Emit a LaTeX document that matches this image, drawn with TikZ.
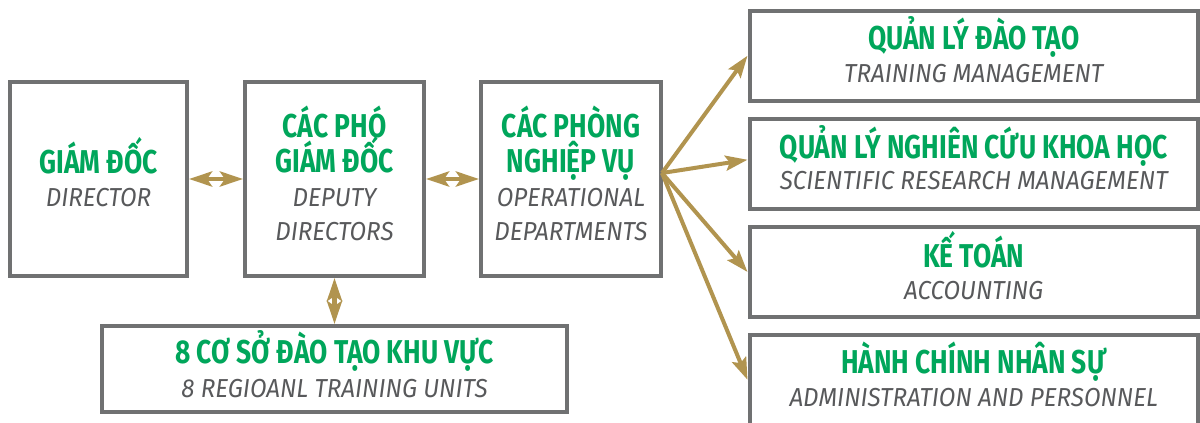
\documentclass[tikz,border=0pt]{standalone}
\usepackage{fontspec}
\usetikzlibrary{arrows.meta,calc}
\newfontfamily\hdfont{Fira Sans}[FakeStretch=0.80]
\newfontfamily\sbfont{Fira Sans}[FakeStretch=0.93]
\definecolor{boxgray}{HTML}{707172}
\definecolor{headgreen}{HTML}{00A65B}
\definecolor{subgray}{HTML}{58595B}
\definecolor{gold}{HTML}{B1944F}
\begin{document}
\begin{tikzpicture}[x=1pt,y=-1pt,
  unit/.style={draw=boxgray,line width=4pt,rectangle,inner sep=0pt,fill=white},
  hd/.style={font=\hdfont\bfseries\fontsize{33}{33}\selectfont,text=headgreen,anchor=base,inner sep=0pt},
  sb/.style={font=\sbfont\itshape\fontsize{26}{26}\selectfont,text=subgray,anchor=base,inner sep=0pt},
  link/.style={draw=gold,line width=4.5pt,{Stealth[length=23pt,width=15pt,inset=5pt]}-{Stealth[length=23pt,width=15pt,inset=5pt]}},
  feed/.style={draw=gold,line width=4pt,-{Stealth[length=22pt,width=15pt,inset=4pt]}}]
\clip (0,0) rectangle (1200,423);

% left row: director, deputies, departments
\node[unit,minimum width=177pt,minimum height=194pt] (dir) at (98.5,179) {};
\node[unit,minimum width=179pt,minimum height=194pt] (dep) at (334.5,179) {};
\node[unit,minimum width=180pt,minimum height=194pt] (ops) at (571,179) {};
\node[unit,minimum width=465pt,minimum height=86pt] (reg) at (334.5,369) {};

% right column of departments
\node[unit,minimum width=448.5pt,minimum height=89.5pt] (trn) at (973.75,55.75) {};
\node[unit,minimum width=448.5pt,minimum height=90.5pt] (res) at (973.75,163.75) {};
\node[unit,minimum width=448.5pt,minimum height=90pt] (acc) at (973.75,272) {};
\node[unit,minimum width=448.5pt,minimum height=90.5pt] (hr) at (973.75,379.75) {};

% labels
\node[hd] (dir-vi) at ($(dir)+(0,-6)$) {GIÁM ĐỐC};
\node[sb] (dir-en) at ($(dir)+(0,27)$) {DIRECTOR};

\node[hd] (dep-vi1) at ($(dep)+(0,-42)$) {CÁC PHÓ};
\node[hd] (dep-vi2) at ($(dep)+(0,-7)$) {GIÁM ĐỐC};
\node[sb] (dep-en1) at ($(dep)+(0,27)$) {DEPUTY};
\node[sb] (dep-en2) at ($(dep)+(0,61)$) {DIRECTORS};

\node[hd] (ops-vi1) at ($(ops)+(0,-42)$) {CÁC PHÒNG};
\node[hd] (ops-vi2) at ($(ops)+(0,-7)$) {NGHIỆP VỤ};
\node[sb] (ops-en1) at ($(ops)+(0,27)$) {OPERATIONAL};
\node[sb] (ops-en2) at ($(ops)+(0,61)$) {DEPARTMENTS};

\node[hd] (reg-vi) at ($(reg)+(0,-6)$) {8 CƠ SỞ ĐÀO TẠO KHU VỰC};
\node[sb] (reg-en) at ($(reg)+(0,28)$) {8 REGIOANL TRAINING UNITS};

\node[hd] (trn-vi) at ($(trn)+(0,-6)$) {QUẢN LÝ ĐÀO TẠO};
\node[sb] (trn-en) at ($(trn)+(0,27)$) {TRAINING MANAGEMENT};

\node[hd] (res-vi) at ($(res)+(0,-5)$) {QUẢN LÝ NGHIÊN CỨU KHOA HỌC};
\node[sb] (res-en) at ($(res)+(0,26)$) {SCIENTIFIC RESEARCH MANAGEMENT};

\node[hd] (acc-vi) at ($(acc)+(0,-5)$) {KẾ TOÁN};
\node[sb] (acc-en) at ($(acc)+(0,27)$) {ACCOUNTING};

\node[hd] (hr-vi) at ($(hr)+(0,-6)$) {HÀNH CHÍNH NHÂN SỰ};
\node[sb] (hr-en) at ($(hr)+(0,27)$) {ADMINISTRATION AND PERSONNEL};

% two-way links
\draw[link] (dir.east) -- (dep.west);
\draw[link] (dep.east) -- (ops.west);
\draw[link] (dep.south) -- (reg.north);

% departments fan out to the right column
\coordinate (fan) at ($(ops.east)+(-1,-6)$);
\draw[feed] (fan) -- (trn.west);
\draw[feed] (fan) -- ($(res.west)+(0,-4)$);
\draw[feed] (fan) -- (acc.west);
\draw[feed] (fan) -- (hr.west);
\end{tikzpicture}
\end{document}
